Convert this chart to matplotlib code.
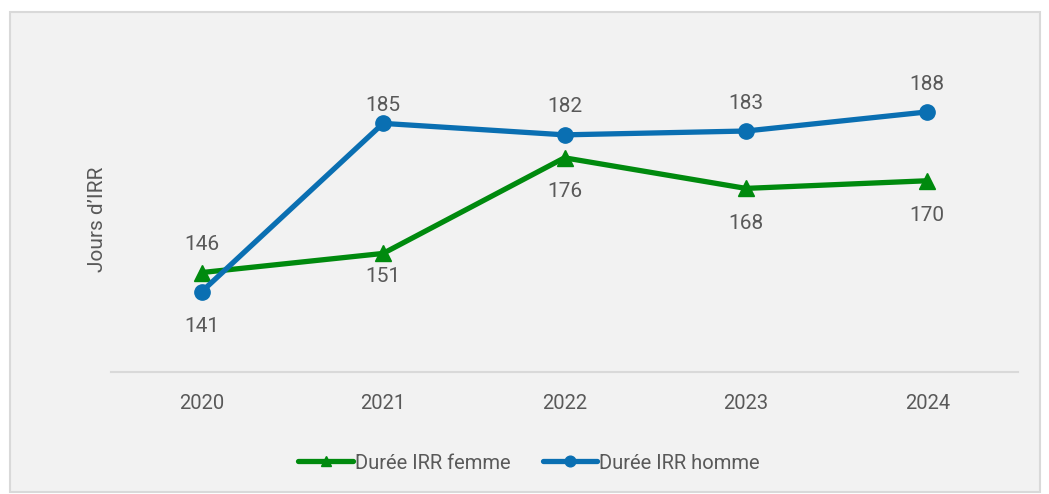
import matplotlib
matplotlib.use("Agg")
import matplotlib.pyplot as plt
from matplotlib.patches import Rectangle

years = ["2020", "2021", "2022", "2023", "2024"]
femme = [146, 151, 176, 168, 170]
homme = [141, 185, 182, 183, 188]
# label offsets (pixels, + is above the point)
femme_off = [31, -20, -31, -32, -32]
homme_off = [-32, 21, 31, 31, 30]

plt.rcParams['font.family'] = ['Roboto', 'DejaVu Sans']
txt = '#595959'
green = '#008a0e'
blue = '#0a6fb2'

fig = plt.figure(figsize=(10.49, 4.94), dpi=100)
fig.patch.set_facecolor('white')
# grey panel with border
panel = Rectangle((10/1049, 2/494), 1030/1049, 480/494, transform=fig.transFigure,
                  facecolor='#f2f2f2', edgecolor='#d9d9d9', linewidth=1.5, zorder=-5)
fig.patches.append(panel)

ax = fig.add_axes([111/1049, 1-372/494, 907/1049, 306/494])
ax.set_facecolor('none')
x = range(len(years))
ax.plot(x, femme, color=green, lw=3.8, marker='^', ms=11, label='Durée IRR femme', zorder=3,
        solid_capstyle='round')
ax.plot(x, homme, color=blue, lw=3.8, marker='o', ms=11, label='Durée IRR homme', zorder=3,
        solid_capstyle='round')

for vals, offs in [(femme, femme_off), (homme, homme_off)]:
    for i, (v, o) in enumerate(zip(vals, offs)):
        ax.annotate(str(v), (i, v), xytext=(0, (o - 3) * 0.72), textcoords='offset points',
                    ha='center', va='center', fontsize=15, color=txt)

ax.set_xlim(-0.5, 4.5)
ax.set_ylim(120, 200)
ax.set_xticks(list(x))
ax.set_xticklabels(years, fontsize=14.5, color=txt)
ax.tick_params(axis='x', length=0, pad=16)
ax.set_yticks([])
for s in ['top', 'right', 'left']:
    ax.spines[s].set_visible(False)
ax.spines['bottom'].set_color('#d9d9d9')
ax.spines['bottom'].set_linewidth(1.5)
ax.set_ylabel("Jours d’IRR", fontsize=15, color=txt, labelpad=3)

leg = fig.legend(loc='center', bbox_to_anchor=(529/1049, 1-463/494), ncol=2, frameon=False,
                 fontsize=14.5, labelcolor=txt, handlelength=2.7, handletextpad=0.1,
                 columnspacing=1.6, markerscale=0.7)

fig.savefig("out.png", dpi=100)
